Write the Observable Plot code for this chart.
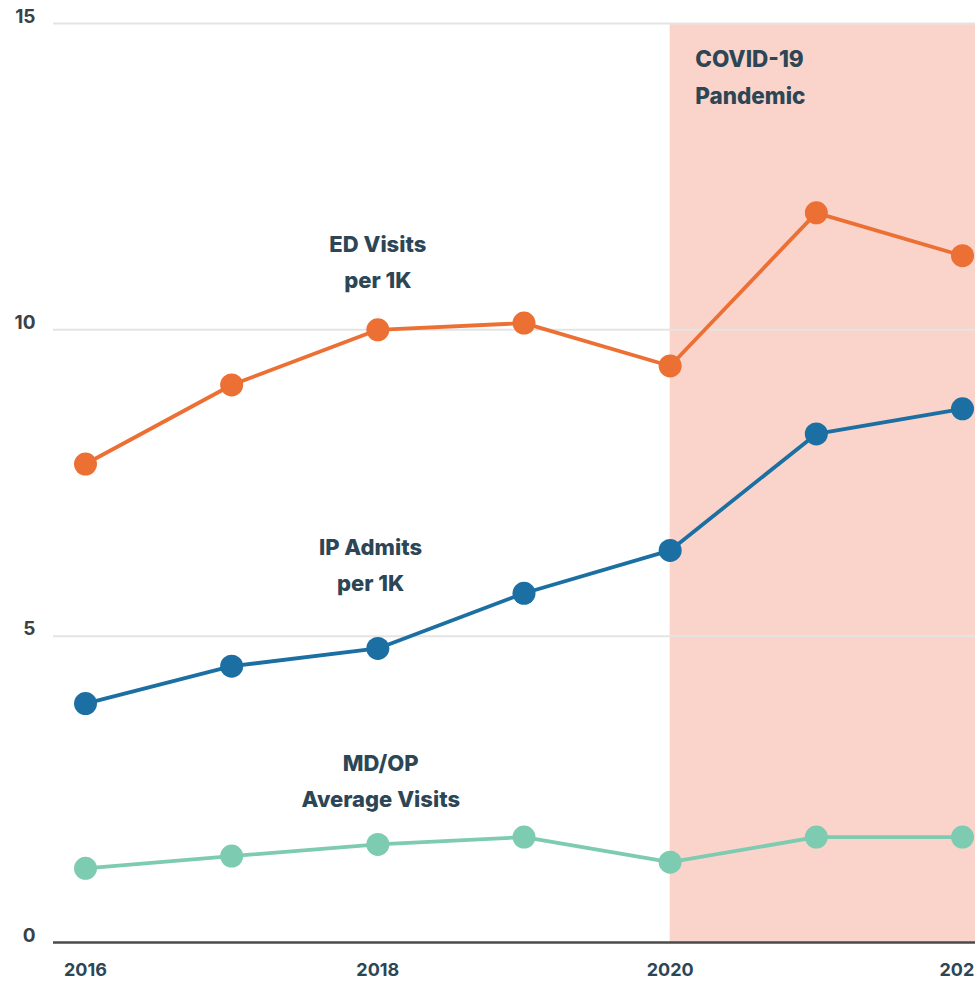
<!DOCTYPE html>
<html>
<head>
<meta charset="utf-8">
<script src="https://cdn.jsdelivr.net/npm/d3@7"></script>
<script src="https://cdn.jsdelivr.net/npm/@observablehq/plot@0.6"></script>
<style>
  html, body { margin: 0; padding: 0; background: #fff; overflow: hidden; }
  #chart svg { display: block; }
</style>
</head>
<body>
<div id="chart"></div>
<script>
// Data
const years = [2016, 2017, 2018, 2019, 2020, 2021, 2022];
const edVisits = [7.81, 9.10, 10.0, 10.11, 9.41, 11.91, 11.21];
const ipAdmits = [3.90, 4.51, 4.80, 5.70, 6.40, 8.30, 8.71];
const mdopVisits = [1.21, 1.41, 1.60, 1.72, 1.31, 1.72, 1.72];
const seriesNames = ["ED Visits per 1K", "IP Admits per 1K", "MD/OP Average Visits"];
const seriesColors = ["#ec6f33", "#1b6fa3", "#7dcbb1"];
const yTicks = [0, 5, 10, 15];
const xTicks = [2016, 2018, 2020, 2022];
const covidStart = 2020;
const covidLabel = "COVID-19\nPandemic";
const labelText = ["ED Visits\nper 1K", "IP Admits\nper 1K", "MD/OP\nAverage Visits"];
const labelX = [2018, 2017.95, 2018.02];
const labelY = [11.17, 6.22, 2.70];

const seriesValues = [edVisits, ipAdmits, mdopVisits];
const rows = seriesNames.flatMap((s, i) => years.map((y, j) => ({series: s, year: y, value: seriesValues[i][j]})));
const labels = labelText.map((t, i) => ({text: t, x: labelX[i], y: labelY[i]}));

const W = 975, H = 982;
const mL = 53, mR = 0, mT = 23, mB = 40;
const pxPerYear = (962 - 85) / 6;
const xDomain = [2016 - (85 - mL) / pxPerYear, 2022 + (W - mR - 962) / pxPerYear];

const font = "Inter, 'Open Sans', sans-serif";
const textColor = "#2c4656";

const plot = Plot.plot({
  width: W,
  height: H,
  marginLeft: mL,
  marginRight: mR,
  marginTop: mT,
  marginBottom: mB,
  style: {fontFamily: font, background: "#fff"},
  x: {domain: xDomain, axis: null},
  y: {domain: [0, 15], axis: null},
  color: {domain: seriesNames, range: seriesColors},
  marks: [
    Plot.rect([{x1: covidStart, x2: xDomain[1]}], {x1: "x1", x2: "x2", y1: 0, y2: 15, fill: "#fad4ca"}),
    Plot.ruleY(yTicks.filter(d => d > 0), {stroke: "#e4e4e4", strokeWidth: 2}),
    Plot.ruleY([0], {stroke: "#4a4a4a", strokeWidth: 2.5}),
    Plot.text(yTicks, {x: xDomain[0], y: d => d, text: d => String(d), textAnchor: "end", dx: -18, dy: -7, fontSize: 19, fontWeight: 700, fill: "#3b4148"}),
    Plot.text(xTicks, {x: d => d, y: 0, text: d => String(d), dy: 28, fontSize: 18, fontWeight: 700, fill: textColor}),
    Plot.text([covidLabel], {x: covidStart, y: 15, text: d => d, textAnchor: "start", lineAnchor: "top", dx: 25, dy: 17, fontSize: 22.5, fontWeight: 800, lineHeight: 1.65, fill: textColor}),
    Plot.line(rows, {x: "year", y: "value", stroke: "series", strokeWidth: 3.8}),
    Plot.dot(rows, {x: "year", y: "value", fill: "series", r: 11.5}),
    Plot.text(labels, {x: "x", y: "y", text: "text", lineAnchor: "middle", fontSize: 22, fontWeight: 800, lineHeight: 1.65, fill: textColor})
  ]
});
document.getElementById("chart").appendChild(plot);
</script>
</body>
</html>
